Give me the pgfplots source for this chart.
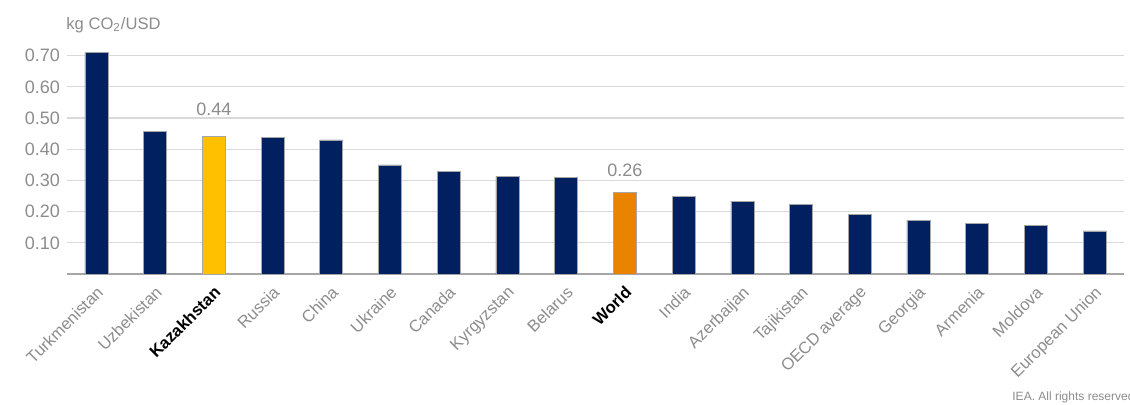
\documentclass[border=0pt]{standalone}
\usepackage{pgfplots}
\pgfplotsset{compat=1.18}
\usepackage{fontspec}
\setmainfont{Liberation Sans}
\definecolor{navy}{RGB}{0,32,96}
\definecolor{kyellow}{RGB}{255,192,0}
\definecolor{worange}{RGB}{233,131,0}
\definecolor{txtgray}{RGB}{140,140,140}
\definecolor{gridgray}{RGB}{217,217,217}
\definecolor{basegray}{RGB}{166,166,166}
\begin{document}
\begin{tikzpicture}
\path[use as bounding box] (0,0) rectangle (565pt,202pt);
\begin{axis}[
  at={(33.5pt,65pt)}, anchor=south west,
  scale only axis, width=528.5pt, height=117pt,
  ybar, bar width=11.5pt, bar shift=0pt,
  xmin=-0.5, xmax=17.5, ymin=0, ymax=0.75,
  xtick={0,...,17},
  xticklabels={Turkmenistan,Uzbekistan,{\color{black}\bfseries Kazakhstan},Russia,China,Ukraine,Canada,Kyrgyzstan,Belarus,{\color{black}\bfseries World},India,Azerbaijan,Tajikistan,OECD average,Georgia,Armenia,Moldova,European Union},
  xticklabel style={rotate=45, anchor=north east, font=\fontsize{8.3}{9}\selectfont, text=txtgray, inner sep=1pt, xshift=-3pt, yshift=-2.5pt},
  ytick={0.1,0.2,0.3,0.4,0.5,0.6,0.7},
  yticklabel style={font=\fontsize{9}{10}\selectfont, text=txtgray},
  yticklabel={\pgfmathprintnumber[fixed, fixed zerofill, precision=2, assume math mode=true]{\tick}},
  ymajorgrids, grid style={draw=gridgray, line width=0.6pt},
  axis x line*=bottom, axis y line*=left,
  x axis line style={draw=basegray, line width=0.9pt, -},
  y axis line style={draw=none},
  major tick length=0pt,
  clip=false,
]
\addplot[fill=navy, draw=gray!70, line width=0.3pt] coordinates {
  (0,0.71) (1,0.458) (3,0.439) (4,0.43) (5,0.35) (6,0.33) (7,0.312) (8,0.31)
  (10,0.25) (11,0.234) (12,0.224) (13,0.192) (14,0.173) (15,0.163) (16,0.157) (17,0.138)};
\addplot[fill=kyellow, draw=gray!70, line width=0.3pt,
  nodes near coords, nodes near coords style={font=\fontsize{9}{10}\selectfont, text=txtgray, yshift=7pt},
  point meta=explicit symbolic] coordinates {(2,0.44) [0.44]};
\addplot[fill=worange, draw=gray!70, line width=0.3pt,
  nodes near coords, nodes near coords style={font=\fontsize{9}{10}\selectfont, text=txtgray, yshift=4pt},
  point meta=explicit symbolic] coordinates {(9,0.263) [0.26]};
\end{axis}
\node[anchor=west, text=txtgray, font=\fontsize{8.3}{9}\selectfont, inner sep=0pt] at (33pt,189.5pt) {kg CO\textsubscript{2}/USD};
\node[anchor=west, text=txtgray, font=\fontsize{6}{7}\selectfont, inner sep=0pt] at (506pt,3.5pt) {IEA. All rights reserved.};
\end{tikzpicture}
\end{document}
